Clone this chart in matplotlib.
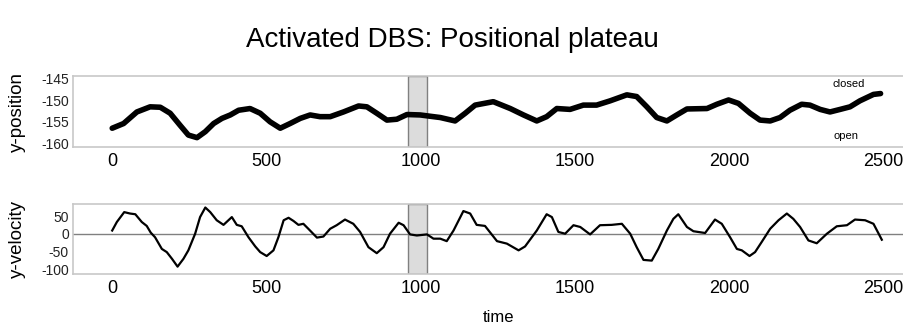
import matplotlib
matplotlib.use('Agg')
import matplotlib.pyplot as plt

plt.rcParams['font.family'] = ['Liberation Sans', 'DejaVu Sans']
plt.rcParams['axes.unicode_minus'] = False

# y-position (thick line)
pos_t = [0, 37, 80, 123, 156, 188, 220, 247, 275, 302, 329, 356, 383, 410, 447,
         480, 512, 545, 577, 610, 642, 674, 707, 750, 799, 826, 858, 891, 923, 956,
         999, 1031, 1064, 1112, 1145, 1177, 1236, 1291, 1334, 1377, 1409, 1442, 1485,
         1528, 1571, 1615, 1669, 1701, 1734, 1766, 1799, 1831, 1864, 1929, 1961, 1999,
         2031, 2069, 2101, 2134, 2166, 2198, 2236, 2263, 2296, 2328, 2361, 2393, 2425,
         2469, 2492]
pos_y = [-156.5, -155.4, -152.7, -151.5, -151.6, -153.0, -155.8, -158.1, -158.7, -157.3,
         -155.4, -154.2, -153.4, -152.3, -151.9, -153.0, -155.0, -156.5, -155.4, -154.2,
         -153.4, -153.8, -153.8, -152.7, -151.3, -151.5, -153.0, -154.6, -154.4, -153.3,
         -153.4, -153.7, -154.0, -154.8, -153.0, -151.1, -150.3, -151.9, -153.4, -154.8,
         -153.8, -151.9, -152.1, -151.1, -151.1, -150.1, -148.7, -149.1, -151.5, -154.0,
         -154.8, -153.4, -152.0, -151.9, -150.9, -149.9, -150.7, -153.0, -154.6, -154.8,
         -154.0, -152.3, -150.9, -151.1, -152.1, -152.7, -152.1, -151.5, -150.1, -148.6,
         -148.4]

# y-velocity
vel_t = [0, 15, 39, 58, 75, 96, 112, 125, 139, 161, 177, 194, 212, 231, 247, 269, 285,
         302, 318, 339, 361, 388, 404, 420, 442, 464, 480, 501, 523, 539, 556, 572, 588,
         604, 620, 636, 664, 685, 707, 728, 755, 782, 804, 831, 858, 880, 901, 929, 945,
         966, 988, 1021, 1042, 1064, 1085, 1107, 1139, 1161, 1182, 1209, 1248, 1280, 1318,
         1339, 1377, 1409, 1426, 1447, 1469, 1496, 1518, 1550, 1582, 1620, 1653, 1680,
         1701, 1723, 1750, 1771, 1799, 1820, 1836, 1864, 1885, 1923, 1955, 1977, 2004,
         2026, 2042, 2067, 2085, 2106, 2134, 2161, 2188, 2209, 2231, 2258, 2285, 2318,
         2350, 2383, 2409, 2442, 2469, 2496]
vel_y = [9, 33, 61, 57, 55, 33, 22, 3, -10, -43, -52, -71, -93, -71, -47, 0, 47,
         74, 61, 38, 25, 47, 25, 21, -10, -36, -52, -63, -47, -10, 38, 45, 36,
         25, 28, 14, -11, -8, 14, 24, 40, 28, 5, -38, -55, -38, 0, 31, 24,
         -2, -5, -2, -14, -14, -21, 9, 64, 57, 25, 22, -21, -28, -47,
         -36, 9, 55, 47, 5, 0, 24, 19, -2, 24, 25, 28, 0,
         -38, -74, -76, -43, 9, 42, 55, 19, 7, 2, 40, 28, -10,
         -43, -47, -63, -52, -24, 14, 38, 57, 42, 19, -19, -27, 0,
         21, 24, 40, 38, 28, -17]

plateau = (960, 1020)
x_ticks = [0, 500, 1000, 1500, 2000, 2500]

fig = plt.figure(figsize=(9.04, 3.29), dpi=100)
ax1 = fig.add_axes([0.0808, 0.553, 0.9192, 0.216])
ax2 = fig.add_axes([0.0808, 0.167, 0.9192, 0.213])

spine_col = '#c8c8c8'
for ax in (ax1, ax2):
    ax.set_xlim(-127, 2568)
    ax.axvspan(*plateau, facecolor='#dcdcdc', edgecolor='#808080', lw=1, zorder=1)
    ax.set_xticks(x_ticks)
    ax.tick_params(axis='x', length=0, labelsize=13, pad=4)
    ax.tick_params(axis='y', length=0, labelsize=10, pad=3, labelcolor='#222222')
    ax.spines['right'].set_visible(False)
    for s in ('left', 'top', 'bottom'):
        ax.spines[s].set_color(spine_col)
        ax.spines[s].set_linewidth(1.2)

ax1.plot(pos_t, pos_y, color='black', lw=4, solid_capstyle='round',
         solid_joinstyle='round', zorder=3)
ax1.set_ylim(-160.9, -144.3)
ax1.set_yticks([-145, -150, -155, -160])
ax1.set_ylabel('y-position', fontsize=13.5)
ax1.yaxis.set_label_coords(-0.057, 0.5)
ax1.text(2335, -146.2, 'closed', fontsize=8, ha='left', va='center')
ax1.text(2340, -158.3, 'open', fontsize=8, ha='left', va='center')

ax2.axhline(0, color='#808080', lw=1, zorder=2)
ax2.plot(vel_t, vel_y, color='black', lw=1.6, solid_joinstyle='round', zorder=3)
ax2.set_ylim(-114, 84)
ax2.set_yticks([50, 0, -50, -100])
ax2.set_ylabel('y-velocity', fontsize=13.5)
ax2.yaxis.set_label_coords(-0.057, 0.5)

fig.text(0.5, 0.878, 'Activated DBS: Positional plateau', fontsize=20, ha='center', va='center')
fig.text(0.551, 0.035, 'time', fontsize=12, ha='center', va='center')

fig.savefig('out.png', dpi=100)
